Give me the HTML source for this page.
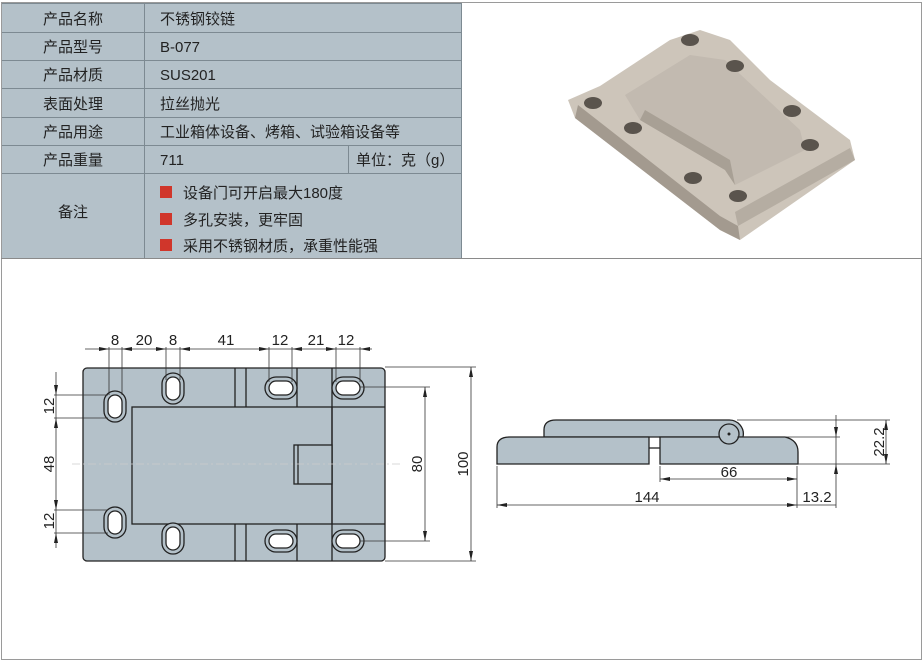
<!DOCTYPE html>
<html><head><meta charset="utf-8"><style>
html,body{margin:0;padding:0;background:#fff;}
body{width:924px;height:664px;overflow:hidden;position:relative;}
svg{position:absolute;left:0;top:0;}
text{font-family:"Liberation Sans","Noto Sans CJK SC",sans-serif;}
</style></head><body>
<svg width="924" height="664" viewBox="0 0 924 664">
<rect x="1.5" y="2.5" width="920" height="657" fill="#fff" stroke="#9a9a9a" stroke-width="1"/>
<!-- table -->
<rect x="2" y="3" width="460" height="256" fill="#b4c1c9"/>
<g stroke="#7d8a92" stroke-width="1" fill="none">
<line x1="2" y1="3.5" x2="462" y2="3.5"/>
<line x1="2" y1="32.5" x2="462" y2="32.5"/>
<line x1="2" y1="60.5" x2="462" y2="60.5"/>
<line x1="2" y1="88.5" x2="462" y2="88.5"/>
<line x1="2" y1="117.5" x2="462" y2="117.5"/>
<line x1="2" y1="145.5" x2="462" y2="145.5"/>
<line x1="2" y1="173.5" x2="462" y2="173.5"/>
<line x1="144.5" y1="3" x2="144.5" y2="259"/>
<line x1="348.5" y1="145" x2="348.5" y2="173"/>
<line x1="461.5" y1="3" x2="461.5" y2="259"/>
</g>
<line x1="1" y1="258.5" x2="922" y2="258.5" stroke="#8a8a8a"/>
<g font-size="15" fill="#222">
<text x="73" y="24" text-anchor="middle">产品名称</text>
<text x="73" y="52" text-anchor="middle">产品型号</text>
<text x="73" y="80" text-anchor="middle">产品材质</text>
<text x="73" y="109" text-anchor="middle">表面处理</text>
<text x="73" y="137" text-anchor="middle">产品用途</text>
<text x="73" y="165" text-anchor="middle">产品重量</text>
<text x="73" y="217" text-anchor="middle">备注</text>
<text x="160" y="24">不锈钢铰链</text>
<text x="160" y="52">B-077</text>
<text x="160" y="80">SUS201</text>
<text x="160" y="109">拉丝抛光</text>
<text x="160" y="137">工业箱体设备、烤箱、试验箱设备等</text>
<text x="160" y="165">711</text>
<text x="356" y="165">单位：克（g）</text>
<text x="183" y="198">设备门可开启最大180度</text>
<text x="183" y="225">多孔安装，更牢固</text>
<text x="183" y="251">采用不锈钢材质，承重性能强</text>
</g>
<g fill="#d0362b">
<rect x="160" y="186" width="12" height="12"/>
<rect x="160" y="213" width="12" height="12"/>
<rect x="160" y="239" width="12" height="12"/>
</g>
<!-- photo -->
<polygon points="568,100 600,86 670,40 700,30 730,40 770,80 850,140 855,160 740,240 720,230 575,118" fill="#cdc5ba"/>
<polygon points="575,118 720,230 740,240 738,226 720,216 578,105" fill="#a39a8f"/>
<polygon points="738,226 855,160 850,148 735,212" fill="#b5ada2"/>
<polygon points="625,95 690,55 725,60 800,130 805,150 735,185 725,170 640,120" fill="#c2bab0"/>
<polygon points="640,120 725,170 735,185 730,160 645,110" fill="#a8a095"/>
<g fill="#5a544d">
<ellipse cx="593" cy="103" rx="9" ry="6"/>
<ellipse cx="633" cy="128" rx="9" ry="6"/>
<ellipse cx="690" cy="40" rx="9" ry="6"/>
<ellipse cx="735" cy="66" rx="9" ry="6"/>
<ellipse cx="792" cy="111" rx="9" ry="6"/>
<ellipse cx="810" cy="145" rx="9" ry="6"/>
<ellipse cx="693" cy="178" rx="9" ry="6"/>
<ellipse cx="738" cy="196" rx="9" ry="6"/>
</g>
<!-- left drawing -->
<g stroke="#222" stroke-width="1.3">
<rect x="83" y="368" width="302" height="193" rx="4" fill="#b4c1c9"/>
<rect x="132" y="407" width="200" height="117" fill="#b4c1c9"/>
<line x1="332" y1="368" x2="332" y2="561"/>
<line x1="332" y1="407" x2="385" y2="407"/>
<line x1="332" y1="524" x2="385" y2="524"/>
<line x1="235" y1="368" x2="235" y2="407"/><line x1="246" y1="368" x2="246" y2="407"/>
<line x1="297" y1="368" x2="297" y2="407"/>
<line x1="235" y1="524" x2="235" y2="561"/><line x1="246" y1="524" x2="246" y2="561"/>
<line x1="297" y1="524" x2="297" y2="561"/>
<rect x="294" y="445" width="38" height="39" fill="#b4c1c9"/>
<line x1="298" y1="445" x2="298" y2="484"/>
</g>
<g stroke="#222" stroke-width="1.3" fill="#fff">
<rect x="104" y="391" width="22" height="31" rx="11" fill="#b4c1c9"/><rect x="108" y="395" width="14" height="23" rx="7"/>
<rect x="104" y="507" width="22" height="31" rx="11" fill="#b4c1c9"/><rect x="108" y="511" width="14" height="23" rx="7"/>
<rect x="162" y="373" width="22" height="31" rx="11" fill="#b4c1c9"/><rect x="166" y="377" width="14" height="23" rx="7"/>
<rect x="162" y="523" width="22" height="31" rx="11" fill="#b4c1c9"/><rect x="166" y="527" width="14" height="23" rx="7"/>
<rect x="265" y="377" width="32" height="22" rx="11" fill="#b4c1c9"/><rect x="269" y="381" width="24" height="14" rx="7"/>
<rect x="265" y="530" width="32" height="22" rx="11" fill="#b4c1c9"/><rect x="269" y="534" width="24" height="14" rx="7"/>
<rect x="332" y="377" width="32" height="22" rx="11" fill="#b4c1c9"/><rect x="336" y="381" width="24" height="14" rx="7"/>
<rect x="332" y="530" width="32" height="22" rx="11" fill="#b4c1c9"/><rect x="336" y="534" width="24" height="14" rx="7"/>
</g>
<line x1="72" y1="464" x2="400" y2="464" stroke="#ccc" stroke-dasharray="8,3,2,3" stroke-width="0.8"/>
<g stroke="#333" stroke-width="0.8" fill="none">
<line x1="85" y1="349" x2="372" y2="349"/>
<line x1="109" y1="347" x2="109" y2="395"/><line x1="122" y1="347" x2="122" y2="395"/>
<line x1="166" y1="347" x2="166" y2="380"/><line x1="180" y1="347" x2="180" y2="380"/>
<line x1="269" y1="347" x2="269" y2="382"/><line x1="292" y1="347" x2="292" y2="382"/>
<line x1="336" y1="347" x2="336" y2="382"/><line x1="360" y1="347" x2="360" y2="382"/>
<line x1="56" y1="372" x2="56" y2="548"/>
<line x1="54" y1="395" x2="108" y2="395"/><line x1="54" y1="418" x2="108" y2="418"/>
<line x1="54" y1="510" x2="108" y2="510"/><line x1="54" y1="533" x2="108" y2="533"/>
<line x1="360" y1="387" x2="430" y2="387"/><line x1="360" y1="541" x2="430" y2="541"/>
<line x1="425" y1="387" x2="425" y2="541"/>
<line x1="385" y1="367" x2="476" y2="367"/><line x1="385" y1="561" x2="476" y2="561"/>
<line x1="471" y1="367" x2="471" y2="561"/>
</g>
<g fill="#222">
<polygon points="109,349 99,347 99,351"/><polygon points="122,349 132,347 132,351"/>
<polygon points="166,349 156,347 156,351"/><polygon points="180,349 190,347 190,351"/>
<polygon points="269,349 259,347 259,351"/><polygon points="292,349 302,347 302,351"/>
<polygon points="336,349 326,347 326,351"/><polygon points="360,349 370,347 370,351"/>
<polygon points="56,395 54,385 58,385"/><polygon points="56,418 54,428 58,428"/>
<polygon points="56,510 54,500 58,500"/><polygon points="56,533 54,543 58,543"/>
<polygon points="425,387 423,397 427,397"/><polygon points="425,541 423,531 427,531"/>
<polygon points="471,367 469,377 473,377"/><polygon points="471,561 469,551 473,551"/>
</g>
<g font-size="15" fill="#222" text-anchor="middle">
<text x="115" y="345">8</text><text x="144" y="345">20</text><text x="173" y="345">8</text>
<text x="226" y="345">41</text><text x="280" y="345">12</text><text x="316" y="345">21</text><text x="346" y="345">12</text>
<text transform="translate(54,406) rotate(-90)">12</text>
<text transform="translate(54,464) rotate(-90)">48</text>
<text transform="translate(54,521) rotate(-90)">12</text>
<text transform="translate(422,464) rotate(-90)">80</text>
<text transform="translate(468,464) rotate(-90)">100</text>
</g>
<!-- side view -->
<g stroke="#222" stroke-width="1.3" fill="#b4c1c9">
<path d="M544,437 L544,430 Q544,420 556,420 L729,420 A14,14 0 0 1 743,437 Z"/>
<path d="M497,464 L497,447 Q497,437 510,437 L649,437 L649,464 Z"/>
<path d="M660,464 L660,437 L785,437 Q798,440 798,452 L798,464 Z"/>
<line x1="649" y1="448" x2="660" y2="448"/>
<circle cx="729" cy="434" r="10"/>
</g>
<circle cx="729" cy="434" r="1.5" fill="#222"/>
<g stroke="#333" stroke-width="0.8" fill="none">
<line x1="737" y1="420" x2="890" y2="420"/>
<line x1="737" y1="437" x2="840" y2="437"/>
<line x1="798" y1="464" x2="890" y2="464"/>
<line x1="836" y1="415" x2="836" y2="508"/>
<line x1="886" y1="420" x2="886" y2="464"/>
<line x1="660" y1="466" x2="660" y2="482"/>
<line x1="497" y1="466" x2="497" y2="508"/><line x1="797" y1="466" x2="797" y2="508"/>
<line x1="660" y1="479" x2="797" y2="479"/>
<line x1="497" y1="505" x2="797" y2="505"/>
<line x1="797" y1="505" x2="836" y2="505"/>
</g>
<g fill="#222">
<polygon points="660,479 670,477 670,481"/><polygon points="797,479 787,477 787,481"/>
<polygon points="497,505 507,503 507,507"/><polygon points="797,505 787,503 787,507"/>
<polygon points="836,437 834,427 838,427"/><polygon points="836,464 834,474 838,474"/>
<polygon points="886,420 884,430 888,430"/><polygon points="886,464 884,454 888,454"/>
</g>
<g font-size="15" fill="#222" text-anchor="middle">
<text x="729" y="477">66</text>
<text x="647" y="502">144</text>
<text x="817" y="502">13.2</text>
<text transform="translate(884,442) rotate(-90)">22.2</text>
</g>
</svg>
</body></html>
